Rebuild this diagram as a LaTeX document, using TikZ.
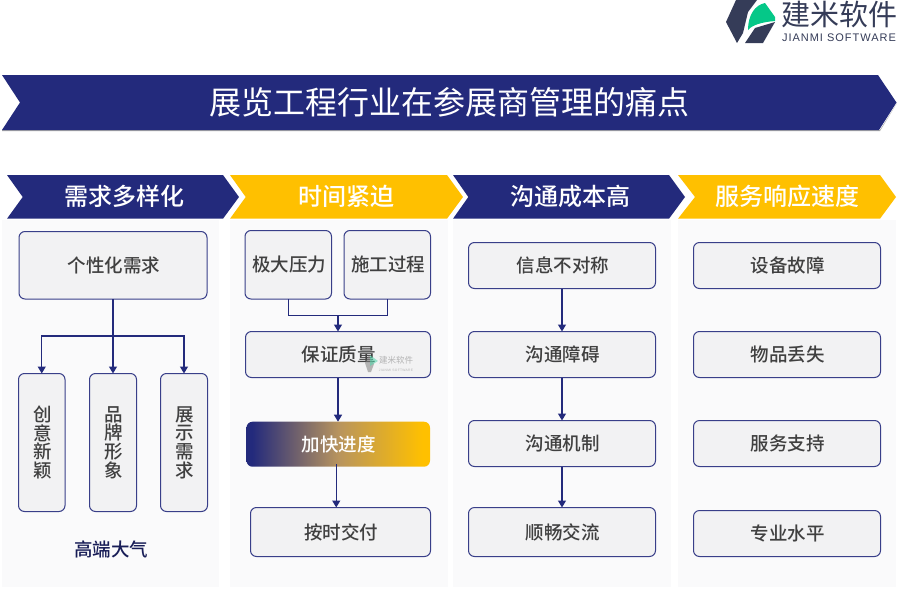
\documentclass[tikz,border=0pt]{standalone}
\usepackage{fontspec}
\setmainfont{Noto Sans CJK SC}
\newfontfamily\medfont{Noto Sans CJK SC Medium}
\newfontfamily\latinfont[LetterSpace=9]{Liberation Sans}
\usetikzlibrary{arrows.meta}
\definecolor{navy}{HTML}{232A7C}
\definecolor{gold}{HTML}{FFC000}
\definecolor{tanc}{HTML}{B8945E}
\definecolor{panelc}{HTML}{FAFAFB}
\definecolor{boxc}{HTML}{F2F2F3}
\definecolor{txtc}{HTML}{404040}
\definecolor{logoc}{HTML}{353C58}
\definecolor{logog}{HTML}{05C888}
\pgfdeclarehorizontalshading{goldramp}{100bp}{color(0bp)=(navy); color(26.5bp)=(navy); color(50bp)=(tanc); color(73bp)=(gold); color(100bp)=(gold)}
\tikzset{
 bx/.style={draw=navy!90!white,line width=1pt,fill=boxc,rounded corners=6pt,inner sep=0pt,outer sep=0pt},
 lbl/.style={text=txtc,font=\medfont\fontsize{18.5}{18.7}\selectfont,align=center,inner sep=0pt},
 head/.style={text=white,font=\medfont\fontsize{24}{26}\selectfont,inner sep=0pt},
 conn/.style={draw=navy,line width=1.3pt},
 arr/.style={conn,-{Triangle[length=7pt,width=8pt]}}
}
\newcommand{\bxn}[6]{\node[bx,minimum width=#3 pt-#1 pt,minimum height=#4 pt-#2 pt,anchor=north west] (#5) at (#1-0.5,#2-0.5) {};
 \node[lbl,xshift=0.9pt] (#5t) at (#5) {#6};}
\begin{document}
\begin{tikzpicture}[x=1pt,y=-1pt]
\useasboundingbox (0,0) rectangle (900,600);
\fill[white] (0,0) rectangle (900,600);
% logo
\fill[logoc] (736,0) -- (757,0) -- (748,12) -- (743,33) -- (737,43) -- (726,22) -- cycle;
\fill[logoc] (745,43) -- (755,28) -- (775,22) -- (763,43) -- cycle;
\fill[logog] (748,30) .. controls (748,15) and (755,5) .. (765,3) -- (775,17) -- (775,21) .. controls (762,22) and (752,25) .. (748,30) -- cycle;
\node[text=logoc,font=\fontsize{29}{30}\selectfont,inner sep=0pt] (logot) at (839.5,14) {建米软件};
\node[text=logoc,font=\latinfont\fontsize{11}{12}\selectfont,inner sep=0pt] (logos) at (839,38) {JIANMI SOFTWARE};
% title band
\fill[gray!70] (2,130) -- (2,131) -- (880,131) -- (897,103) -- (880,130) -- cycle;
\fill[navy] (2,75) -- (20,102.5) -- (2,130) -- (879,130) -- (896.5,102.5) -- (878,75) -- cycle;
\node[text=white,font=\fontsize{32}{34}\selectfont,inner sep=0pt] (title) at (449.5,102) {展览工程行业在参展商管理的痛点};
% panels
\fill[panelc] (2,220) rectangle (219,587);
\fill[panelc] (230,220) rectangle (448,587);
\fill[panelc] (453,220) rectangle (671,587);
\fill[panelc] (678,220) rectangle (896,587);
% headers
\fill[navy] (7,175) -- (223,175) -- (239,197) -- (223,218.7) -- (7,218.7) -- (22.7,197) -- cycle;
\fill[gold] (230,175) -- (447,175) -- (463,197) -- (447,218.7) -- (230,218.7) -- (245.7,197) -- cycle;
\fill[navy] (453,175) -- (669,175) -- (685,197) -- (669,218.7) -- (453,218.7) -- (468.3,197) -- cycle;
\fill[gold] (678,175) -- (880,175) -- (896,197) -- (880,218.7) -- (678,218.7) -- (695,197) -- cycle;
\node[head] (h1) at (124,196) {需求多样化};
\node[head] (h2) at (346,196) {时间紧迫};
\node[head] (h3) at (570,196) {沟通成本高};
\node[head] (h4) at (787,196) {服务响应速度};
% col 1
\bxn{19.5}{232}{207.5}{299.5}{a}{个性化需求}
\bxn{19}{374}{65.5}{512}{a1}{创\\意\\新\\颖}
\bxn{90}{374}{137}{512}{a2}{品\\牌\\形\\象}
\bxn{161}{374}{208}{512}{a3}{展\\示\\需\\求}
\node[text=navy!70!black,font=\medfont\fontsize{18.5}{20}\selectfont,inner sep=0pt] (gd) at (111,549.5) {高端大气};
\coordinate (ajn) at (113,336);
\draw[arr] (a.south) -- (a2.north);
\draw[arr] (ajn) -| (a1.north);
\draw[arr] (ajn) -| (a3.north);
% col 2
\bxn{245.5}{231}{332}{299.5}{b1}{极大压力}
\bxn{344.5}{231}{431}{299.5}{b2}{施工过程}
\bxn{246}{332}{431}{378}{b3}{保证质量}
\node[draw=none,anchor=north west,minimum width=183.5pt,minimum height=45pt,inner sep=0pt,outer sep=0pt,
  shading=goldramp,rounded corners=6pt] (b4) at (246.5,421.7) {};
\bxn{251}{508}{431}{557}{b5}{按时交付}
\node[lbl,text=white] (b4t) at (338.5,444) {加快进度};
\coordinate (bj) at (338,315.5);
\draw[conn] (b1.south) |- (bj) -| (b2.south);
\draw[arr] (bj) -- (b3.north);
\draw[arr] (b3.south) -- (b3.south |- b4.north);
\draw[arr] ([shift={(-2pt,2.5pt)}]b4.south) -- ([xshift=-2pt]b4.south |- b5.north);
% watermark
\begin{scope}[opacity=.55]
\fill[gray] (369,355) -- (365,363) -- (368,372) -- (371,372) -- (374,364) -- cycle;
\fill[logog!70] (370,355) -- (378,361) -- (370,366) -- cycle;
\node[text=gray,font=\fontsize{8.5}{9}\selectfont,inner sep=0pt] (wm) at (396,360) {建米软件};
\node[text=gray,font=\latinfont\fontsize{3.3}{4}\selectfont,inner sep=0pt] (wm2) at (396,370.5) {JIANMI SOFTWARE};
\end{scope}
% col 3
\bxn{469}{243}{656}{289}{c1}{信息不对称}
\bxn{469}{332}{656}{378}{c2}{沟通障碍}
\bxn{469}{421}{656}{467}{c3}{沟通机制}
\bxn{469}{508}{656}{557}{c4}{顺畅交流}
\draw[arr] (c1.south) -- (c2.north);
\draw[arr] (c2.south) -- (c3.north);
\draw[arr] (c3.south) -- (c4.north);
% col 4
\bxn{694}{243}{881}{289}{d1}{设备故障}
\bxn{694}{332}{881}{378}{d2}{物品丢失}
\bxn{694}{421}{881}{467}{d3}{服务支持}
\bxn{694}{511}{881}{557}{d4}{专业水平}
\end{tikzpicture}
\end{document}
